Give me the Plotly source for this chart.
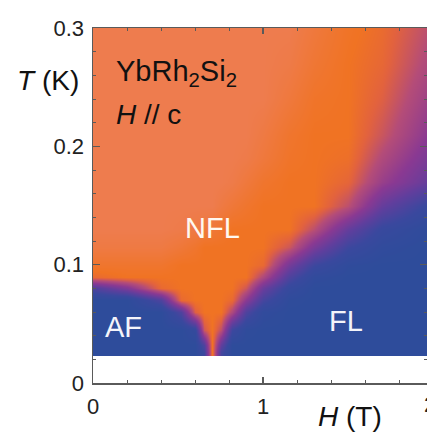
import plotly.graph_objects as go

# Magnetic field nodes (T) and temperature nodes (K) at which the colour map was read
field_H = [0, 0.2, 0.4, 0.52, 0.6, 0.65, 0.7, 0.75, 0.82, 0.9, 1.0, 1.15, 1.3, 1.5, 1.7, 1.97]
temp_T = [0.026, 0.032, 0.045, 0.06, 0.07, 0.08, 0.09, 0.10, 0.115, 0.13,
          0.15, 0.17, 0.19, 0.21, 0.24, 0.27, 0.30]

# colour value: 0 = blue (FL / AF), 1 = orange (NFL), 1.2 = salmon
row_026 = [0, 0, 0, 0, 0, 0.2, 1.0, 0.25, 0, 0, 0, 0, 0, 0, 0, 0]
row_032 = [0, 0, 0, 0, 0, 0.3, 1.0, 0.4, 0, 0, 0, 0, 0, 0, 0, 0]
row_045 = [0, 0, 0, 0, 0.1, 0.85, 1.0, 0.8, 0.2, 0.02, 0, 0, 0, 0, 0, 0]
row_060 = [0, 0, 0, 0.3, 0.9, 1.0, 1.0, 1.0, 0.75, 0.3, 0.05, 0, 0, 0, 0, 0]
row_070 = [0, 0, 0.3, 0.95, 1.0, 1.0, 1.0, 1.0, 0.95, 0.6, 0.25, 0.02, 0, 0, 0, 0]
row_080 = [0.3, 0.55, 0.95, 1.0, 1.0, 1.0, 1.0, 1.0, 1.0, 0.85, 0.45, 0.12, 0, 0, 0, 0]
row_090 = [0.95, 1.0, 1.0, 1.0, 1.0, 1.0, 1.0, 1.0, 1.0, 1.0, 0.75, 0.3, 0.05, 0, 0, 0]
row_100 = [1.05, 1.05, 1.05, 1.0, 1.0, 1.0, 1.0, 1.0, 1.0, 1.0, 0.95, 0.5, 0.2, 0.03, 0, 0]
row_115 = [1.15, 1.15, 1.15, 1.1, 1.05, 1.0, 1.0, 1.0, 1.0, 1.0, 1.0, 0.85, 0.52, 0.2, 0.05, 0]
row_130 = [1.2, 1.2, 1.2, 1.18, 1.15, 1.12, 1.1, 1.05, 1.0, 1.0, 1.0, 1.0, 0.8, 0.42, 0.15, 0.02]
row_150 = [1.2, 1.2, 1.2, 1.2, 1.2, 1.2, 1.2, 1.15, 1.1, 1.05, 1.0, 1.0, 1.0, 0.8, 0.42, 0.15]
row_170 = [1.2, 1.2, 1.2, 1.2, 1.2, 1.2, 1.2, 1.2, 1.18, 1.12, 1.05, 1.0, 1.0, 0.93, 0.66, 0.42]
row_190 = [1.2, 1.2, 1.2, 1.2, 1.2, 1.2, 1.2, 1.2, 1.2, 1.18, 1.12, 1.03, 1.0, 0.98, 0.76, 0.52]
row_210 = [1.2, 1.2, 1.2, 1.2, 1.2, 1.2, 1.2, 1.2, 1.2, 1.2, 1.15, 1.05, 1.0, 1.0, 0.84, 0.6]
row_240 = [1.2, 1.2, 1.2, 1.2, 1.2, 1.2, 1.2, 1.2, 1.2, 1.2, 1.2, 1.12, 1.03, 1.0, 0.9, 0.68]
row_270 = [1.2, 1.2, 1.2, 1.2, 1.2, 1.2, 1.2, 1.2, 1.2, 1.2, 1.2, 1.17, 1.08, 1.0, 0.94, 0.75]
row_300 = [1.2, 1.2, 1.2, 1.2, 1.2, 1.2, 1.2, 1.2, 1.2, 1.2, 1.2, 1.2, 1.12, 1.02, 0.96, 0.8]

z_rows = [row_026, row_032, row_045, row_060, row_070, row_080, row_090, row_100,
          row_115, row_130, row_150, row_170, row_190, row_210, row_240, row_270, row_300]

x_ticks = [0, 1]
x_tick_text = ["0", "1"]
y_ticks = [0, 0.1, 0.2, 0.3]
y_tick_text = ["0", "0.1", "0.2", "0.3"]

FONT = "Liberation Sans, Arial, Helvetica, sans-serif"
AXC = "#5a5a5a"

colorscale = [
    [0.0, "#2E4C9B"],
    [0.15, "#3A489E"],
    [0.33, "#603E9D"],
    [0.5, "#8A3992"],
    [0.65, "#B44C78"],
    [0.76, "#E2623E"],
    [0.833, "#F07323"],
    [1.0, "#EE7C4E"],
]

fig = go.Figure()
fig.add_trace(go.Heatmap(
    x=field_H, y=temp_T, z=z_rows,
    zmin=0, zmax=1.2, zsmooth="best",
    colorscale=colorscale, showscale=False, hoverinfo="skip",
))

W, H = 427, 433
ML, MR, MT, MB = 93, 0, 28, 50
px_per_T = 170.0
x_max = (W - ML - MR) / px_per_T

fig.update_layout(
    width=W, height=H,
    margin=dict(l=ML, r=MR, t=MT, b=MB, pad=0, autoexpand=False),
    paper_bgcolor="white", plot_bgcolor="white",
    showlegend=False,
    font=dict(family=FONT, color="#222222"),
    xaxis=dict(
        range=[0, x_max], tickvals=x_ticks, ticktext=x_tick_text,
        ticks="inside", ticklen=6, tickwidth=1.2, tickcolor=AXC,
        minor=dict(dtick=0.2, ticks="inside", ticklen=3, tickwidth=1, tickcolor=AXC),
        showline=True, linecolor=AXC, linewidth=1.5, mirror="ticks",
        showgrid=False, zeroline=False, automargin=False,
        tickfont=dict(size=22, family=FONT, color="#222222"),
        ticklabelstandoff=3,
    ),
    yaxis=dict(
        range=[0, 0.3], tickvals=y_ticks, ticktext=y_tick_text,
        ticks="inside", ticklen=7, tickwidth=1.2, tickcolor=AXC,
        minor=dict(dtick=0.02, ticks="inside", ticklen=3, tickwidth=1, tickcolor=AXC),
        showline=True, linecolor=AXC, linewidth=1.5, mirror="ticks",
        showgrid=False, zeroline=False, automargin=False,
        tickfont=dict(size=22, family=FONT, color="#222222"),
        ticklabelstandoff=3,
    ),
)

ann = []
# axis titles
ann.append(dict(x=-45 / 334, y=0.256, xref="paper", yref="y", text="<i>T</i> (K)",
                xanchor="center", yanchor="middle",
                showarrow=False, font=dict(size=28, family=FONT, color="#111111")))
ann.append(dict(x=1.51, y=-33 / 355, xref="x", yref="paper", text="<i>H</i> (T)",
                xanchor="center", yanchor="middle",
                showarrow=False, font=dict(size=28, family=FONT, color="#111111")))
# partially visible "2" tick label at the cropped right edge
ann.append(dict(x=1.0, y=-21 / 355, xref="paper", yref="paper", text="2",
                xanchor="left", yanchor="middle", xshift=-5,
                showarrow=False, font=dict(size=22, family=FONT, color="#222222")))
# in-plot labels
ann.append(dict(x=0.125, y=0.262, xref="x", yref="y", xanchor="left", yanchor="middle",
                text="YbRh<sub>2</sub>Si<sub>2</sub>", showarrow=False,
                font=dict(size=29, family=FONT, color="#111111")))
ann.append(dict(x=0.125, y=0.227, xref="x", yref="y", xanchor="left", yanchor="middle",
                text="<i>H</i> // c", showarrow=False,
                font=dict(size=28, family=FONT, color="#111111")))
ann.append(dict(x=0.70, y=0.131, xref="x", yref="y", text="NFL", showarrow=False,
                xanchor="center", yanchor="middle",
                font=dict(size=29, family=FONT, color="#FFF8F0")))
ann.append(dict(x=0.18, y=0.047, xref="x", yref="y", text="AF", showarrow=False,
                xanchor="center", yanchor="middle",
                font=dict(size=29, family=FONT, color="#F4F4FA")))
ann.append(dict(x=1.49, y=0.052, xref="x", yref="y", text="FL", showarrow=False,
                xanchor="center", yanchor="middle",
                font=dict(size=29, family=FONT, color="#F4F4FA")))
fig.update_layout(annotations=ann)

# remove the default page margin so the figure sits at the window's top-left corner
fig.write_html(
    "out.html",
    config={"displayModeBar": False, "staticPlot": True},
    post_script="document.body.style.margin='0';document.body.style.overflow='hidden';",
)
